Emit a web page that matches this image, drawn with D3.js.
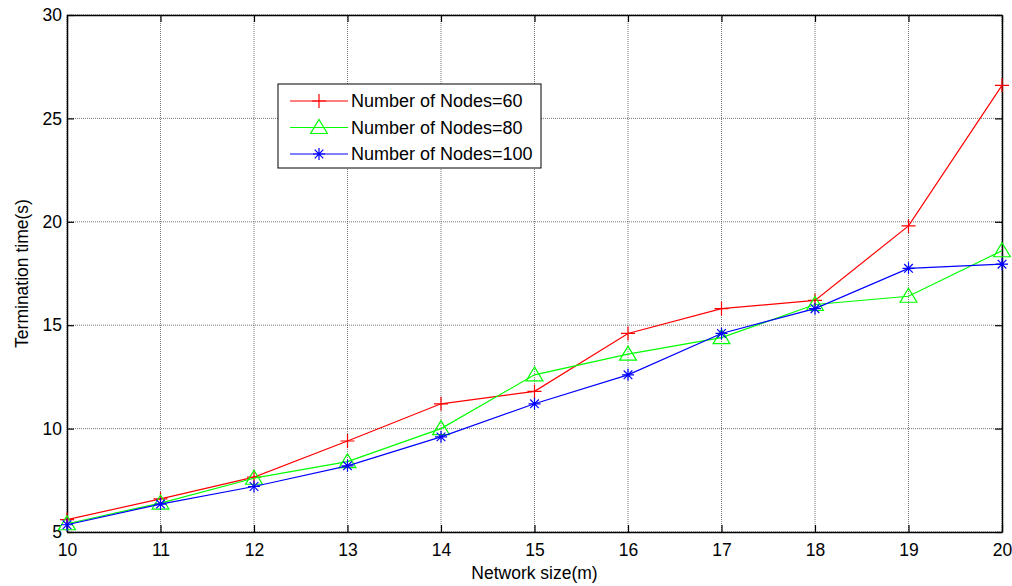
<!DOCTYPE html>
<html>
<head>
<meta charset="utf-8">
<script src="https://cdn.jsdelivr.net/npm/d3@7"></script>
<style>
  body { margin: 0; background: #fff; }
  text { font-family: Arial, "Liberation Sans", sans-serif; }
</style>
</head>
<body>
<div id="chart"></div>
<script>
const networkSize = [10, 11, 12, 13, 14, 15, 16, 17, 18, 19, 20];
const nodes60 = [5.6, 6.6, 7.65, 9.4, 11.2, 11.8, 14.6, 15.8, 16.2, 19.8, 26.6];
const nodes80 = [5.4, 6.4, 7.6, 8.4, 10.0, 12.6, 13.6, 14.4, 16.0, 16.4, 18.6];
const nodes100 = [5.35, 6.35, 7.2, 8.2, 9.6, 11.2, 12.6, 14.6, 15.8, 17.75, 17.95];
const yTicks = [5, 10, 15, 20, 25, 30];
const seriesNames = ["Number of Nodes=60", "Number of Nodes=80", "Number of Nodes=100"];

const width = 1012, height = 586;
const margin = { top: 15, right: 10, bottom: 54, left: 67 };

const svg = d3.select("#chart").append("svg")
    .attr("width", width)
    .attr("height", height);

const x = d3.scaleLinear()
    .domain([10, 20])
    .range([margin.left, width - margin.right]);

const y = d3.scaleLinear()
    .domain([5, 30])
    .range([height - margin.bottom, margin.top]);

// grid
svg.append("g").selectAll("line")
    .data(networkSize)
    .enter().append("line")
    .attr("x1", d => x(d)).attr("x2", d => x(d))
    .attr("y1", y(5)).attr("y2", y(30))
    .attr("stroke", "#555").attr("stroke-width", 0.8)
    .attr("stroke-dasharray", "1,1");

svg.append("g").selectAll("line")
    .data(yTicks)
    .enter().append("line")
    .attr("x1", x(10)).attr("x2", x(20))
    .attr("y1", d => y(d)).attr("y2", d => y(d))
    .attr("stroke", "#555").attr("stroke-width", 0.8)
    .attr("stroke-dasharray", "1,1");

// axes (inward ticks, MATLAB style box)
const tick = 7;
svg.append("g")
    .attr("transform", `translate(0,${y(5)})`)
    .call(d3.axisBottom(x).tickValues(networkSize).tickFormat(d3.format("d")).tickSizeInner(-tick).tickSizeOuter(0).tickPadding(12));
svg.append("g")
    .attr("transform", `translate(0,${y(30)})`)
    .call(d3.axisTop(x).tickValues(networkSize).tickFormat("").tickSizeInner(-tick).tickSizeOuter(0));
svg.append("g")
    .attr("transform", `translate(${x(10)},0)`)
    .call(d3.axisLeft(y).tickValues(yTicks).tickSizeInner(-tick).tickSizeOuter(0).tickPadding(5));
svg.append("g")
    .attr("transform", `translate(${x(20)},0)`)
    .call(d3.axisRight(y).tickValues(yTicks).tickFormat("").tickSizeInner(-tick).tickSizeOuter(0));

svg.selectAll(".domain").attr("stroke", "#000").attr("stroke-width", 1.5);
svg.selectAll(".tick line").attr("stroke", "#000").attr("stroke-width", 1.2);
svg.selectAll(".tick text").attr("font-size", 17.5).attr("fill", "#000")
    .style("font-family", "Arial, 'Liberation Sans', sans-serif");

// axis labels
svg.append("text")
    .attr("x", (x(10) + x(20)) / 2)
    .attr("y", 579)
    .attr("text-anchor", "middle")
    .attr("font-size", 17.5)
    .text("Network size(m)");

svg.append("text")
    .attr("transform", `translate(28,${(y(5) + y(30)) / 2}) rotate(-90)`)
    .attr("text-anchor", "middle")
    .attr("font-size", 17.5)
    .text("Termination time(s)");

// markers
function plusPath(s) { return `M${-s},0H${s}M0,${-s}V${s}`; }
function triPath(s) { return `M0,${-s}L${s * 1.05},${s * 0.75}H${-s * 1.05}Z`; }
function starPath(s) {
    const d = s * 0.72;
    return `M${-s},0H${s}M0,${-s}V${s}M${-d},${-d}L${d},${d}M${-d},${d}L${d},${-d}`;
}

const series = [
    { name: seriesNames[0], values: nodes60, color: "#ff0000", marker: plusPath(7), fill: "none" },
    { name: seriesNames[1], values: nodes80, color: "#00ff00", marker: triPath(8), fill: "none" },
    { name: seriesNames[2], values: nodes100, color: "#0000ff", marker: starPath(6), fill: "none" }
];

const line = d3.line()
    .x((d, i) => x(networkSize[i]))
    .y(d => y(d));

series.forEach(s => {
    svg.append("path")
        .datum(s.values)
        .attr("d", line)
        .attr("fill", "none")
        .attr("stroke", s.color)
        .attr("stroke-width", 1.2);

    svg.append("g").selectAll("path")
        .data(s.values)
        .enter().append("path")
        .attr("transform", (d, i) => `translate(${x(networkSize[i])},${y(d)})`)
        .attr("d", s.marker)
        .attr("fill", s.fill)
        .attr("stroke", s.color)
        .attr("stroke-width", 1.2);
});

// legend
const legend = svg.append("g");
legend.append("rect")
    .attr("x", 278).attr("y", 84)
    .attr("width", 263).attr("height", 84)
    .attr("fill", "#fff")
    .attr("stroke", "#000")
    .attr("stroke-width", 1);

series.forEach((s, i) => {
    const ly = 101 + i * 26.5;
    legend.append("line")
        .attr("x1", 290).attr("x2", 348)
        .attr("y1", ly).attr("y2", ly)
        .attr("stroke", s.color)
        .attr("stroke-width", 1.2);
    legend.append("path")
        .attr("transform", `translate(319,${ly})`)
        .attr("d", s.marker)
        .attr("fill", "none")
        .attr("stroke", s.color)
        .attr("stroke-width", 1.2);
    legend.append("text")
        .attr("x", 351)
        .attr("y", ly)
        .attr("dy", "0.36em")
        .attr("font-size", 18)
        .text(s.name);
});
</script>
</body>
</html>
